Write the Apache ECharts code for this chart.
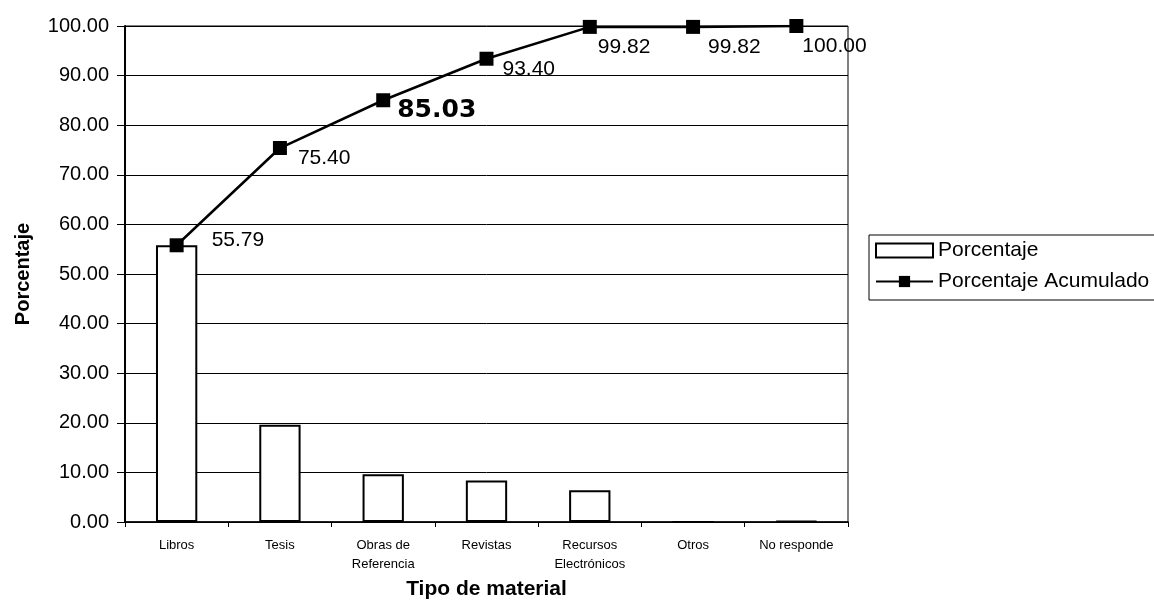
<!DOCTYPE html>
<html>
<head>
<meta charset="utf-8">
<script src="https://cdn.jsdelivr.net/npm/echarts@6/dist/echarts.min.js"></script>
<style>
  html, body { margin: 0; padding: 0; background: #fff; }
  #chart { width: 1154px; height: 602px; }
</style>
</head>
<body>
<div id="chart"></div>
<script>
var categories = ['Libros', 'Tesis', 'Obras de\nReferencia', 'Revistas', 'Recursos\nElectrónicos', 'Otros', 'No responde'];
var porcentaje = [55.79, 19.61, 9.63, 8.37, 6.42, 0.00, 0.18];
var acumulado = [55.79, 75.40, 85.03, 93.40, 99.82, 99.82, 100.00];
var yTicks = [0, 10, 20, 30, 40, 50, 60, 70, 80, 90, 100];

var labelOffsets = [[23, -5], [6, 10], [2, 10], [4, 10], [-4, 20], [3, 20], [-6, 20]];
var highlightIndex = 2;

var lineData = acumulado.map(function (v, i) {
  var lbl = { offset: labelOffsets[i] };
  if (i === highlightIndex) {
    lbl.fontFamily = 'DejaVu Sans';
    lbl.fontWeight = 'bold';
    lbl.fontSize = 25;
  }
  return { value: v, label: lbl };
});

var chart = echarts.init(document.getElementById('chart'));
chart.setOption({
  animation: false,
  backgroundColor: '#fff',
  textStyle: { fontFamily: 'Liberation Sans', color: '#000' },
  grid: {
    left: 125, right: 306, top: 26, bottom: 80,
    containLabel: false,
    outerBoundsMode: 'none',
    show: true, borderColor: '#000', borderWidth: 1, backgroundColor: 'transparent'
  },
  legend: {
    left: 869, top: 235,
    orient: 'vertical',
    padding: [5, 6, 8, 6],
    itemGap: 10,
    itemWidth: 57,
    itemHeight: 14,
    borderColor: '#000',
    borderWidth: 1,
    textStyle: { fontFamily: 'Liberation Sans', fontSize: 21, color: '#000' },
    data: [
      { name: 'Porcentaje', icon: 'rect', itemStyle: { color: '#fff', borderColor: '#000', borderWidth: 2 } },
      { name: 'Porcentaje Acumulado' }
    ]
  },
  xAxis: {
    type: 'category',
    data: categories,
    name: 'Tipo de material',
    nameLocation: 'middle',
    nameGap: 57,
    nameTextStyle: { fontFamily: 'Liberation Sans', fontWeight: 'bold', fontSize: 21, color: '#000' },
    axisLine: { lineStyle: { color: '#000', width: 1.5 } },
    axisTick: { show: true, length: 5, lineStyle: { color: '#000' } },
    axisLabel: { interval: 0, fontSize: 13, lineHeight: 19, margin: 14, color: '#000', fontFamily: 'Liberation Sans' }
  },
  yAxis: {
    type: 'value',
    min: yTicks[0],
    max: yTicks[yTicks.length - 1],
    interval: yTicks[1] - yTicks[0],
    name: 'Porcentaje',
    nameLocation: 'middle',
    nameRotate: 90,
    nameGap: 92,
    nameTextStyle: { fontFamily: 'Liberation Sans', fontWeight: 'bold', fontSize: 20, color: '#000' },
    axisLine: { show: true, lineStyle: { color: '#000', width: 2 } },
    axisTick: { show: true, length: 8, lineStyle: { color: '#000' } },
    axisLabel: {
      fontSize: 20, margin: 16, color: '#000', fontFamily: 'Liberation Sans',
      formatter: function (v) { return v.toFixed(2); }
    },
    splitLine: { show: true, lineStyle: { color: '#000', width: 1 } }
  },
  series: [
    {
      name: 'Porcentaje',
      type: 'bar',
      data: porcentaje,
      barWidth: '40%',
      itemStyle: { color: '#fff', borderColor: '#000', borderWidth: 2 }
    },
    {
      name: 'Porcentaje Acumulado',
      type: 'line',
      data: lineData,
      symbol: 'rect',
      symbolSize: 14,
      itemStyle: { color: '#000' },
      lineStyle: { color: '#000', width: 2.5 },
      label: {
        show: true,
        position: 'right',
        distance: 5,
        fontSize: 21,
        color: '#000',
        fontFamily: 'Liberation Sans',
        formatter: function (p) { return p.value.toFixed(2); }
      },
      z: 5
    }
  ]
});
</script>
</body>
</html>
